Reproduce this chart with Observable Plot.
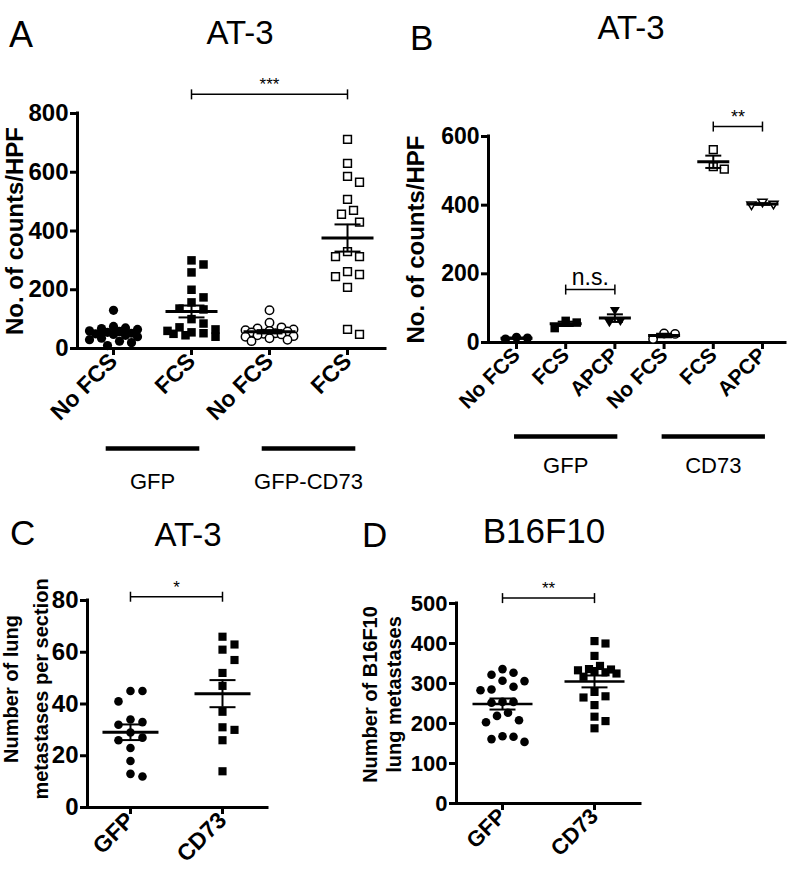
<!DOCTYPE html>
<html><head><meta charset="utf-8">
<script src="https://cdn.jsdelivr.net/npm/d3@7"></script>
<script src="https://cdn.jsdelivr.net/npm/@observablehq/plot@0.6"></script>
<style>
html,body{margin:0;padding:0;background:#fff;}
#root{position:relative;width:789px;height:874px;overflow:hidden;background:#fff;font-family:"Liberation Sans",Arial,Helvetica,sans-serif;color:#000;}
.t{position:absolute;line-height:1;white-space:nowrap;color:#000;}
.panel{position:absolute;}
.panel svg{overflow:visible;}
</style></head><body><div id="root"></div>
<script>
// ---------------- DATA ----------------
// Panel A (AT-3, No. of counts/HPF)
const catsA = ["No FCS", "FCS", "No FCS", "FCS"];
const aGfpNoFcs  = [130, 75, 70, 68, 65, 60, 58, 55, 52, 50, 48, 45, 40, 35, 30, 25, 20, 10];
const aGfpFcs    = [300, 286, 259, 200, 174, 157, 136, 133, 100, 85, 72, 65, 60, 55, 52, 50, 45, 40];
const aCd73NoFcs = [130, 88, 72, 68, 65, 62, 60, 58, 55, 52, 50, 48, 45, 42, 40, 35, 30, 25];
const aCd73Fcs   = [712, 630, 586, 566, 508, 470, 457, 430, 330, 313, 313, 262, 252, 245, 208, 65, 48];
const groupsA = [{label: "GFP", from: 0, to: 1}, {label: "GFP-CD73", from: 2, to: 3}];
const ticksA = [0, 200, 400, 600, 800];

// Panel B (AT-3, No. of counts/HPF)
const catsB = ["No FCS", "FCS", "APCP", "No FCS", "FCS", "APCP"];
const bGfpNoFcs  = [10, 15, 13];
const bGfpFcs    = [63, 58, 42];
const bGfpApcp   = [93, 62, 58];
const bCd73NoFcs = [26, 25, 10];
const bCd73Fcs   = [562, 505, 512];
const bCd73Apcp  = [408, 400, 402];
const groupsB = [{label: "GFP", from: 0, to: 2}, {label: "CD73", from: 3, to: 5}];
const ticksB = [0, 200, 400, 600];

// Panel C (AT-3 lung metastases per section)
const catsC = ["GFP", "CD73"];
const cGfp  = [45, 45, 41, 34, 33, 32, 29, 27, 26, 23, 18, 13, 12];
const cCd73 = [66, 63, 61, 57, 52, 47, 37, 31, 30, 26, 14];
const ticksC = [0, 20, 40, 60, 80];

// Panel D (B16F10 lung metastases)
const catsD = ["GFP", "CD73"];
const dGfp  = [336, 322, 327, 306, 307, 285, 283, 292, 254, 252, 254, 227, 208, 203, 219, 167, 154, 161, 168];
const dCd73 = [406, 400, 369, 335, 333, 328, 325, 331, 336, 344, 317, 279, 265, 268, 246, 217, 206, 188];
const ticksD = [0, 100, 200, 300, 400, 500];

// ---------------- HELPERS ----------------
const FONT = '"Liberation Sans", Arial, Helvetica, sans-serif';
const hline = w => ({draw(ctx) { ctx.moveTo(-w, 0); ctx.lineTo(w, 0); }});
const vline = h => ({draw(ctx) { ctx.moveTo(0, -h); ctx.lineTo(0, h); }});
const triDown = {draw(ctx, size) {
  const s = Math.sqrt(size / Math.PI);
  ctx.moveTo(-s, -0.7 * s); ctx.lineTo(s, -0.7 * s); ctx.lineTo(0, 0.95 * s); ctx.closePath();
}};

// simple beeswarm: returns horizontal pixel offsets
function swarm(values, pxY, rr, maxPx) {
  const placed = [], out = new Array(values.length);
  const order = d3.range(values.length).sort((a, b) => values[b] - values[a]);
  for (const i of order) {
    const y = values[i] * pxY;
    let best = 0, bestD = -1;
    for (let k = 0; ; k++) {
      const off = (k % 2 ? 1 : -1) * Math.ceil(k / 2) * rr;
      if (Math.abs(off) > maxPx) break;
      let md = Infinity;
      for (const p of placed) md = Math.min(md, Math.hypot(p.x - off, p.y - y));
      if (md >= 2 * rr) { best = off; bestD = md; break; }
      if (md > bestD) { bestD = md; best = off; }
    }
    placed.push({x: best, y});
    out[i] = best;
  }
  return out;
}

function build(c) {
  const fw = c.width - c.ml - c.mr, fh = c.height - c.mt - c.mb;
  const pxX = fw / (c.xDomain[1] - c.xDomain[0]);
  const pxY = fh / (c.yDomain[1] - c.yDomain[0]);
  const marks = [
    Plot.ruleX([c.xDomain[0]], {strokeWidth: 3, strokeLinecap: "square"}),
    Plot.ruleY([c.yDomain[0]], {strokeWidth: 3, strokeLinecap: "square"}),
    Plot.axisY({ticks: c.yTicks, tickSize: 7, tickPadding: 2, fontSize: c.yFs, fontWeight: "bold", strokeWidth: 3, label: null}),
    Plot.axisX({ticks: d3.range(c.cats.length), tickFormat: i => c.cats[i], tickRotate: -45, tickSize: 7, tickPadding: 2,
      fontSize: c.xFs, fontWeight: "bold", strokeWidth: 3, label: null})
  ];
  const stats = [];
  c.series.forEach((s, i) => {
    const offs = swarm(s.values, pxY, c.rr, c.maxPx);
    const pts = s.values.map((v, k) => ({x: i + offs[k] / pxX, y: v}));
    marks.push(Plot.dot(pts, {x: "x", y: "y", symbol: s.symbol, r: s.r, fill: s.fill,
      stroke: s.stroke || "none", strokeWidth: s.sw || 0}));
    const m = d3.mean(s.values), se = d3.deviation(s.values) / Math.sqrt(s.values.length);
    stats.push({i, mean: m, lo: m - se, hi: m + se});
  });
  marks.push(Plot.ruleX(stats, {x: "i", y1: "lo", y2: "hi", strokeWidth: c.semW}));
  marks.push(Plot.dot(stats.flatMap(s => [{i: s.i, y: s.lo}, {i: s.i, y: s.hi}]),
    {x: "i", y: "y", symbol: hline(c.capHalf), fill: "none", stroke: "black", strokeWidth: c.semW}));
  marks.push(Plot.dot(stats, {x: "i", y: "mean", symbol: hline(c.meanHalf), fill: "none", stroke: "black", strokeWidth: c.meanW}));
  // significance brackets
  c.sigs.forEach(s => {
    const top = d3.max([...c.series[s.from].values, ...c.series[s.to].values]);
    const d = [{from: s.from, to: s.to, y: top, label: s.label}];
    marks.push(Plot.link(d, {x1: "from", x2: "to", y1: "y", y2: "y", dy: s.dy, strokeWidth: 1.5}));
    marks.push(Plot.dot([{x: s.from, y: top}, {x: s.to, y: top}], {x: "x", y: "y", dy: s.dy, symbol: vline(5),
      fill: "none", stroke: "black", strokeWidth: 1.5}));
    marks.push(Plot.text(d, {x: e => (e.from + e.to) / 2, y: "y", text: "label", dy: s.dy - s.gap,
      lineAnchor: "bottom", fontSize: s.fs}));
  });
  // group bars
  if (c.groups) {
    marks.push(Plot.link(c.groups, {x1: g => g.from - c.gExt, x2: g => g.to + c.gExt,
      y1: () => c.yDomain[0], y2: () => c.yDomain[0], dy: c.gBarDy, strokeWidth: 4.5}));
    marks.push(Plot.text(c.groups, {x: g => (g.from + g.to) / 2, y: () => c.yDomain[0], text: "label",
      dy: c.gLabelDy, fontSize: 22}));
  }
  // y axis title
  marks.push(Plot.text([c.ylabel], {frameAnchor: "left", textAnchor: "middle", lineAnchor: "middle",
    rotate: -90, dx: c.ylDx, dy: c.ylDy || 0,
    fontSize: c.ylFs, fontWeight: "bold", lineHeight: c.ylLh || 1}));

  const svg = Plot.plot({
    width: c.width, height: c.height,
    marginLeft: c.ml, marginRight: c.mr, marginTop: c.mt, marginBottom: c.mb,
    x: {type: "linear", domain: c.xDomain},
    y: {type: "linear", domain: c.yDomain},
    style: {fontFamily: FONT, color: "black", background: "white"},
    marks
  });
  const wrap = document.createElement("div");
  wrap.className = "panel";
  wrap.style.left = c.left + "px"; wrap.style.top = c.top + "px";
  wrap.style.width = c.width + "px"; wrap.style.height = c.height + "px";
  wrap.appendChild(svg);
  document.getElementById("root").appendChild(wrap);
}

// ---------------- PANELS ----------------
build({
  left: 0, top: 60, width: 395, height: 440, ml: 77, mt: 53, mb: 152, mr: 10,
  xDomain: [-0.4615, 3.487], yDomain: [0, 800], yTicks: ticksA, cats: catsA, yFs: 24, xFs: 23,
  series: [
    {values: aGfpNoFcs, symbol: "circle", r: 4.6, fill: "black"},
    {values: aGfpFcs, symbol: "square", r: 4.8, fill: "black"},
    {values: aCd73NoFcs, symbol: "circle", r: 4.2, fill: "white", stroke: "black", sw: 1.5},
    {values: aCd73Fcs, symbol: "square", r: 4.4, fill: "white", stroke: "black", sw: 1.5}
  ],
  rr: 6, maxPx: 24, meanHalf: 26, capHalf: 13, meanW: 3, semW: 2,
  sigs: [{from: 1, to: 3, label: "***", dy: -45, gap: 4, fs: 17}],
  groups: groupsA, gExt: 0.1, gBarDy: 100, gLabelDy: 133,
  ylabel: "No. of counts/HPF", ylDx: -62, ylFs: 24
});

build({
  left: 400, top: 60, width: 389, height: 430, ml: 88, mt: 76, mb: 148, mr: 4,
  xDomain: [-0.569, 5.468], yDomain: [0, 600], yTicks: ticksB, cats: catsB, yFs: 23, xFs: 21,
  series: [
    {values: bGfpNoFcs, symbol: "circle", r: 4.6, fill: "black"},
    {values: bGfpFcs, symbol: "square", r: 4.8, fill: "black"},
    {values: bGfpApcp, symbol: triDown, r: 5, fill: "black"},
    {values: bCd73NoFcs, symbol: "circle", r: 4.2, fill: "white", stroke: "black", sw: 1.5},
    {values: bCd73Fcs, symbol: "square", r: 4.4, fill: "white", stroke: "black", sw: 1.5},
    {values: bCd73Apcp, symbol: triDown, r: 4.6, fill: "white", stroke: "black", sw: 1.5}
  ],
  rr: 5.5, maxPx: 12, meanHalf: 16, capHalf: 8, meanW: 3, semW: 2,
  sigs: [{from: 1, to: 2, label: "n.s.", dy: -21, gap: 5, fs: 23},
         {from: 4, to: 5, label: "**", dy: -23, gap: 4, fs: 18}],
  groups: groupsB, gExt: 0.05, gBarDy: 94, gLabelDy: 123,
  ylabel: "No. of counts/HPF", ylDx: -72, ylFs: 24
});

build({
  left: 0, top: 560, width: 300, height: 314, ml: 87, mt: 40, mb: 67, mr: 33,
  xDomain: [-0.467, 1.489], yDomain: [0, 80], yTicks: ticksC, cats: catsC, yFs: 24, xFs: 23,
  series: [
    {values: cGfp, symbol: "circle", r: 4.3, fill: "black"},
    {values: cCd73, symbol: "square", r: 4.6, fill: "black"}
  ],
  rr: 6, maxPx: 14, meanHalf: 28, capHalf: 13, meanW: 3, semW: 2,
  sigs: [{from: 0, to: 1, label: "*", dy: -40, gap: 4, fs: 17}],
  ylabel: "Number of lung\nmetastases per section", ylDx: -64, ylDy: -15, ylFs: 20, ylLh: 1.5
});

build({
  left: 350, top: 560, width: 340, height: 314, ml: 106, mt: 43, mb: 71, mr: 50,
  xDomain: [-0.5, 1.5], yDomain: [0, 500], yTicks: ticksD, cats: catsD, yFs: 22, xFs: 22,
  series: [
    {values: dGfp, symbol: "circle", r: 4.3, fill: "black"},
    {values: dCd73, symbol: "square", r: 4.6, fill: "black"}
  ],
  rr: 5.5, maxPx: 22, meanHalf: 30, capHalf: 13, meanW: 2.5, semW: 2,
  sigs: [{from: 0, to: 1, label: "**", dy: -43, gap: 4, fs: 17}],
  ylabel: "Number of B16F10\nlung metastases", ylDx: -75, ylDy: -9, ylFs: 20, ylLh: 1.2
});

// ---------------- PANEL LETTERS & TITLES ----------------
const texts = [
  {text: "A", x: 9, capTop: 22, fs: 36},
  {text: "AT-3", x: 240, capTop: 20, fs: 33, center: true},
  {text: "B", x: 410, capTop: 25, fs: 35},
  {text: "AT-3", x: 631, capTop: 15, fs: 33, center: true},
  {text: "C", x: 10, capTop: 520, fs: 35},
  {text: "AT-3", x: 188, capTop: 522, fs: 33, center: true},
  {text: "D", x: 362, capTop: 522, fs: 35},
  {text: "B16F10", x: 544, capTop: 518, fs: 35, center: true}
];
for (const t of texts) {
  const el = document.createElement("div");
  el.className = "t";
  el.textContent = t.text;
  el.style.fontSize = t.fs + "px";
  el.style.left = t.x + "px";
  el.style.top = (t.capTop - 0.1305 * t.fs) + "px";
  if (t.center) el.style.transform = "translateX(-50%)";
  document.getElementById("root").appendChild(el);
}
</script></body></html>
